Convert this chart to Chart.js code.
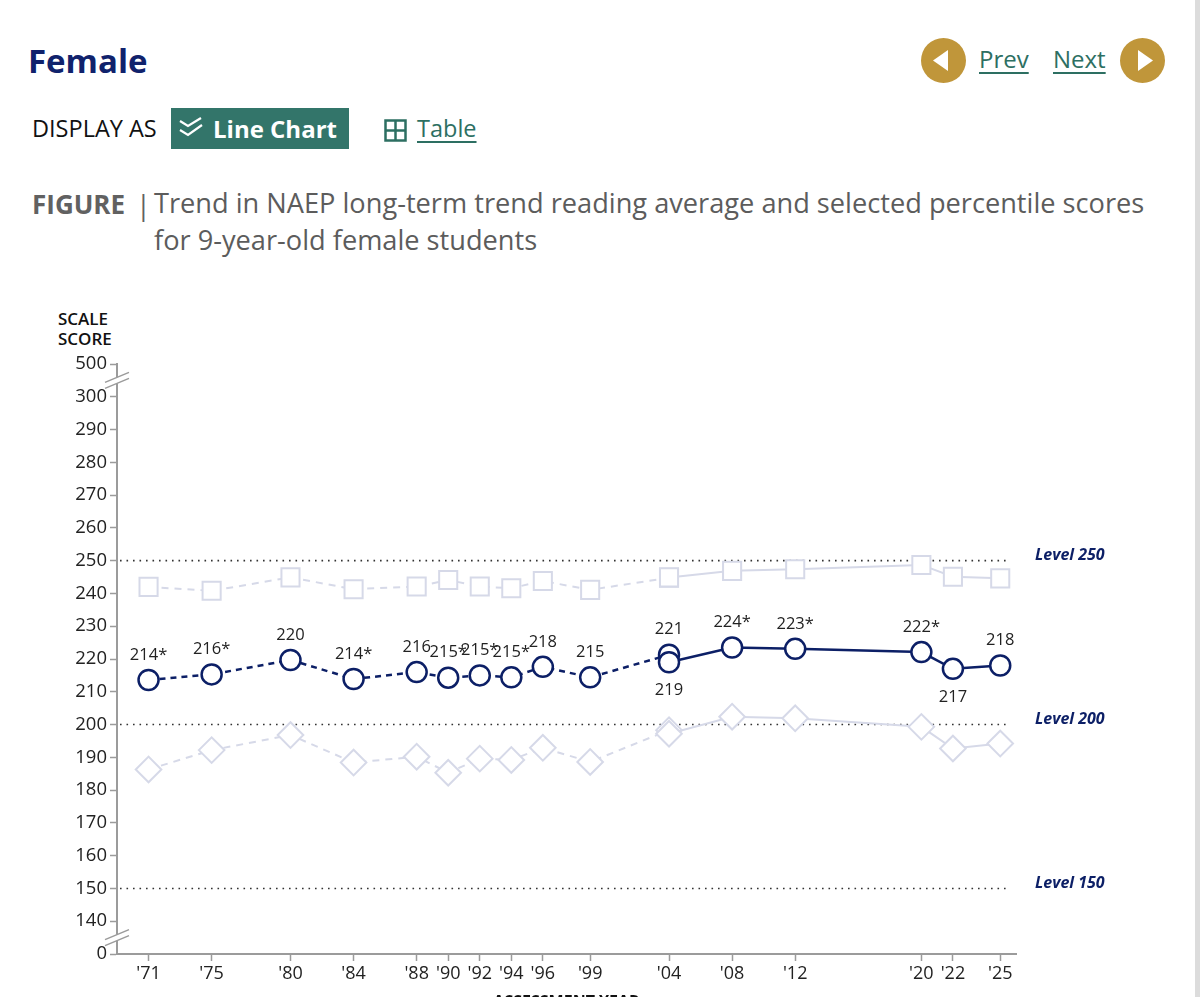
<!DOCTYPE html>
<html>
<head>
<meta charset="utf-8">
<script src="https://cdn.jsdelivr.net/npm/chart.js@4.4.1/dist/chart.umd.min.js"></script>
<style>
  body { margin: 0; width: 1200px; height: 997px; overflow: hidden; background: #fff; font-family: "Open Sans", sans-serif; position: relative; }
  .abs { position: absolute; line-height: 1; white-space: nowrap; }
  #heading { left: 28px; top: 44px; font-size: 33px; font-weight: 700; color: #10226c; }
  #displayAs { left: 32px; top: 117px; font-size: 23.5px; color: #111; }
  #btnChart { left: 171px; top: 108px; width: 178px; height: 41px; background: #33756a; }
  #btnChart span { position: absolute; left: 42px; top: 9px; font-size: 24px; font-weight: 700; color: #fff; line-height: 1; }
  #btnChart svg { position: absolute; left: 6px; top: 8px; }
  #tableIcon { left: 384px; top: 119px; }
  #tableLink { left: 417px; top: 117px; font-size: 23.5px; color: #2d6f62; text-decoration: underline; text-underline-offset: 4px; }
  .nav { font-size: 24px; color: #2d6f62; text-decoration: underline; text-underline-offset: 4px; top: 47px; }
  #figLabel { left: 32px; top: 191px; font-size: 26px; font-weight: 700; color: #616161; }
  #figBar { left: 136px; top: 191px; font-size: 27px; color: #616161; }
  #figText { left: 154px; top: 184px; font-size: 27.2px; color: #5c5c5c; line-height: 37px; white-space: nowrap; }
  #yTitle { left: 58px; top: 309px; font-size: 17px; font-weight: 600; color: #111; line-height: 20px; }
  #chartBox { position: absolute; left: 0; top: 290px; width: 1200px; height: 740px; }
  #edge { position: absolute; left: 1195px; top: 0; width: 5px; height: 997px; background: #dcdcdc; }
</style>
</head>
<body>
<div class="abs" id="heading">Female</div>

<div class="abs" id="displayAs">DISPLAY AS</div>
<div class="abs" id="btnChart">
  <svg width="28" height="24" viewBox="0 0 28 24">
    <polyline points="3,5 11,10 24,2" fill="none" stroke="#fff" stroke-width="2.2"/>
    <polyline points="3,14 11,19 25,9" fill="none" stroke="#fff" stroke-width="2.2"/>
  </svg>
  <span>Line Chart</span>
</div>
<svg class="abs" id="tableIcon" width="23" height="23" viewBox="0 0 23 23">
  <rect x="1.5" y="1.5" width="20" height="20" fill="none" stroke="#2d6f62" stroke-width="2.5"/>
  <line x1="11.5" y1="1.5" x2="11.5" y2="21.5" stroke="#2d6f62" stroke-width="2.5"/>
  <line x1="1.5" y1="11.5" x2="21.5" y2="11.5" stroke="#2d6f62" stroke-width="2.5"/>
</svg>
<div class="abs" id="tableLink">Table</div>

<svg class="abs" style="left:921px;top:38px" width="45" height="45" viewBox="0 0 45 45">
  <circle cx="22.5" cy="22.5" r="22.5" fill="#c0963a"/>
  <polygon points="12,22.5 27,12 27,33" fill="#fff"/>
</svg>
<div class="abs nav" style="left:979px">Prev</div>
<div class="abs nav" style="left:1053px">Next</div>
<svg class="abs" style="left:1120px;top:38px" width="45" height="45" viewBox="0 0 45 45">
  <circle cx="22.5" cy="22.5" r="22.5" fill="#c0963a"/>
  <polygon points="33,22.5 18,12 18,33" fill="#fff"/>
</svg>

<div class="abs" id="figLabel">FIGURE</div>
<div class="abs" id="figBar">|</div>
<div class="abs" id="figText">Trend in NAEP long-term trend reading average and selected percentile scores<br>for 9-year-old female students</div>

<div class="abs" id="yTitle">SCALE<br>SCORE</div>

<div id="chartBox"><canvas id="trendChart"></canvas></div>
<div id="edge"></div>

<script>
// assessment years shown on the x axis
const tickYears = [1971, 1975, 1980, 1984, 1988, 1990, 1992, 1994, 1996, 1999, 2004, 2008, 2012, 2020, 2022, 2025];

// original assessment format (dashed) and revised format (solid)
const yearsOld = [1971, 1975, 1980, 1984, 1988, 1990, 1992, 1994, 1996, 1999, 2004];
const yearsNew = [2004, 2008, 2012, 2020, 2022, 2025];

// average scale scores
const avgOld = [213.6, 215.3, 219.7, 213.9, 216.0, 214.3, 215.0, 214.4, 217.6, 214.4, 221.3];
const avgNew = [219.0, 223.5, 223.1, 222.1, 217.0, 218.0];
const avgOldLabels = ["214*", "216*", "220", "214*", "216", "215*", "215*", "215*", "218", "215", "221"];
const avgNewLabels = ["219", "224*", "223*", "222*", "217", "218"];

// 75th percentile
const p75Old = [242.0, 240.8, 244.9, 241.3, 242.1, 244.1, 242.1, 241.6, 243.8, 241.1, 244.8];
const p75New = [244.9, 246.9, 247.4, 248.7, 245.1, 244.6];

// 25th percentile
const p25Old = [186.3, 192.2, 196.8, 188.4, 190.2, 185.3, 189.6, 189.2, 192.9, 188.6, 198.3];
const p25New = [197.2, 202.4, 201.9, 199.3, 192.7, 194.2];

// achievement levels
const levels = [250, 200, 150];
const levelLabels = ["Level 250", "Level 200", "Level 150"];

// axis break: the scale runs 130..310, ends are shown as 0 and 500
const axisBottom = 130;
const axisTop = 310;

const navy = "#0c1f66";
const faint = "#d6d9e8";
const axisGrey = "#9b9b9b";

function toPoints(years, values) {
  let pts = [];
  for (let i = 0; i < years.length; i++) {
    pts.push({ x: years[i], y: values[i] });
  }
  return pts;
}

// level lines, point labels and the axis break marks
const naepOverlay = {
  id: "naepOverlay",
  beforeDatasetsDraw(chart) {
    const { ctx, chartArea } = chart;
    const y = chart.scales.y;
    ctx.save();
    for (let i = 0; i < levels.length; i++) {
      let py = y.getPixelForValue(levels[i]);
      ctx.setLineDash([1.6, 4.9]);
      ctx.lineWidth = 1.6;
      ctx.strokeStyle = "#333";
      ctx.beginPath();
      ctx.moveTo(chartArea.left + 3, py);
      ctx.lineTo(chartArea.right - 7, py);
      ctx.stroke();

      ctx.setLineDash([]);
      ctx.fillStyle = navy;
      ctx.font = "italic 700 16px 'Open Sans'";
      ctx.textAlign = "left";
      ctx.textBaseline = "middle";
      ctx.fillText(levelLabels[i], chartArea.right + 19, py - 5);
    }
    ctx.restore();
  },
  afterDatasetsDraw(chart) {
    const ctx = chart.ctx;
    ctx.save();
    ctx.font = "16.5px 'Open Sans'";
    ctx.fillStyle = "#222";
    ctx.textAlign = "center";
    ctx.textBaseline = "middle";
    chart.data.datasets.forEach((ds, di) => {
      if (!ds.pointLabels) return;
      let meta = chart.getDatasetMeta(di);
      let below = ds.labelsBelow || [];
      meta.data.forEach((pt, i) => {
        let year = ds.data[i].x;
        let dy = below.includes(year) ? 28 : -25;
        ctx.fillText(ds.pointLabels[i], pt.x, pt.y + dy);
      });
    });
    ctx.restore();
  },
  afterDraw(chart) {
    const ctx = chart.ctx;
    const y = chart.scales.y;
    const ax = chart.chartArea.left;
    const breaks = [(axisTop + 300) / 2, (axisBottom + 140) / 2];
    ctx.save();
    breaks.forEach(v => {
      let py = y.getPixelForValue(v);
      // white gap between the two slashes
      ctx.fillStyle = "#fff";
      ctx.beginPath();
      ctx.moveTo(ax - 12, py + 2);
      ctx.lineTo(ax + 12, py - 8);
      ctx.lineTo(ax + 12, py - 2);
      ctx.lineTo(ax - 12, py + 8);
      ctx.closePath();
      ctx.fill();
      ctx.strokeStyle = axisGrey;
      ctx.lineWidth = 1.5;
      ctx.beginPath();
      ctx.moveTo(ax - 12, py + 2);
      ctx.lineTo(ax + 12, py - 8);
      ctx.moveTo(ax - 12, py + 8);
      ctx.lineTo(ax + 12, py - 2);
      ctx.stroke();
    });
    ctx.restore();
  }
};

const ctx = document.getElementById("trendChart").getContext("2d");
const chart = new Chart(ctx, {
  type: "line",
  data: {
    datasets: [
      {
        label: "Average (revised format)",
        data: toPoints(yearsNew, avgNew),
        pointLabels: avgNewLabels,
        labelsBelow: [2004, 2022],
        borderColor: navy,
        borderWidth: 2.5,
        pointStyle: "circle",
        pointRadius: 10,
        pointBorderWidth: 2.5,
        pointBorderColor: navy,
        pointBackgroundColor: "#fff"
      },
      {
        label: "Average (original format)",
        data: toPoints(yearsOld, avgOld),
        pointLabels: avgOldLabels,
        borderColor: navy,
        borderWidth: 2.5,
        borderDash: [6, 5],
        pointStyle: "circle",
        pointRadius: 10,
        pointBorderWidth: 2.5,
        pointBorderColor: navy,
        pointBackgroundColor: "#fff"
      },
      {
        label: "75th percentile (revised format)",
        data: toPoints(yearsNew, p75New),
        borderColor: faint,
        borderWidth: 2,
        pointStyle: "rect",
        pointRadius: 12.8,
        pointBorderWidth: 2,
        pointBorderColor: faint,
        pointBackgroundColor: "#fff"
      },
      {
        label: "75th percentile (original format)",
        data: toPoints(yearsOld, p75Old),
        borderColor: faint,
        borderWidth: 2,
        borderDash: [7, 6],
        pointStyle: "rect",
        pointRadius: 12.8,
        pointBorderWidth: 2,
        pointBorderColor: faint,
        pointBackgroundColor: "#fff"
      },
      {
        label: "25th percentile (revised format)",
        data: toPoints(yearsNew, p25New),
        borderColor: faint,
        borderWidth: 2,
        pointStyle: "rectRot",
        pointRadius: 12.8,
        pointBorderWidth: 2,
        pointBorderColor: faint,
        pointBackgroundColor: "#fff"
      },
      {
        label: "25th percentile (original format)",
        data: toPoints(yearsOld, p25Old),
        borderColor: faint,
        borderWidth: 2,
        borderDash: [7, 6],
        pointStyle: "rectRot",
        pointRadius: 12.8,
        pointBorderWidth: 2,
        pointBorderColor: faint,
        pointBackgroundColor: "#fff"
      }
    ]
  },
  options: {
    responsive: true,
    maintainAspectRatio: false,
    animation: false,
    layout: {
      padding: { left: 0, right: 184, top: 74, bottom: 0 }
    },
    plugins: {
      legend: { display: false },
      tooltip: { enabled: false }
    },
    scales: {
      x: {
        type: "linear",
        min: 1969,
        max: 2026,
        afterBuildTicks: scale => {
          scale.ticks = tickYears.map(v => ({ value: v }));
        },
        afterFit: scale => {
          scale.height = 76;
        },
        ticks: {
          autoSkip: false,
          maxRotation: 0,
          padding: 2,
          color: "#222",
          font: { family: "Open Sans", size: 18 },
          callback: v => "'" + String(v).slice(2)
        },
        grid: {
          drawOnChartArea: false,
          drawTicks: true,
          tickLength: 7,
          tickWidth: 1.5,
          color: axisGrey
        },
        border: { display: true, color: axisGrey, width: 2 },
        title: {
          display: true,
          text: "ASSESSMENT YEAR",
          color: "#111",
          font: { family: "Open Sans", size: 16, weight: "700" },
          padding: { top: 4, bottom: 18 }
        }
      },
      y: {
        type: "linear",
        min: axisBottom,
        max: axisTop,
        afterFit: scale => {
          scale.width = 117;
        },
        ticks: {
          stepSize: 10,
          padding: 3,
          color: "#222",
          font: { family: "Open Sans", size: 18.5 },
          callback: v => (v === axisTop ? "500" : v === axisBottom ? "0" : v)
        },
        grid: {
          drawOnChartArea: false,
          drawTicks: true,
          tickLength: 7,
          tickWidth: 1.5,
          color: axisGrey
        },
        border: { display: true, color: axisGrey, width: 2 }
      }
    }
  },
  plugins: [naepOverlay]
});
</script>
</body>
</html>
